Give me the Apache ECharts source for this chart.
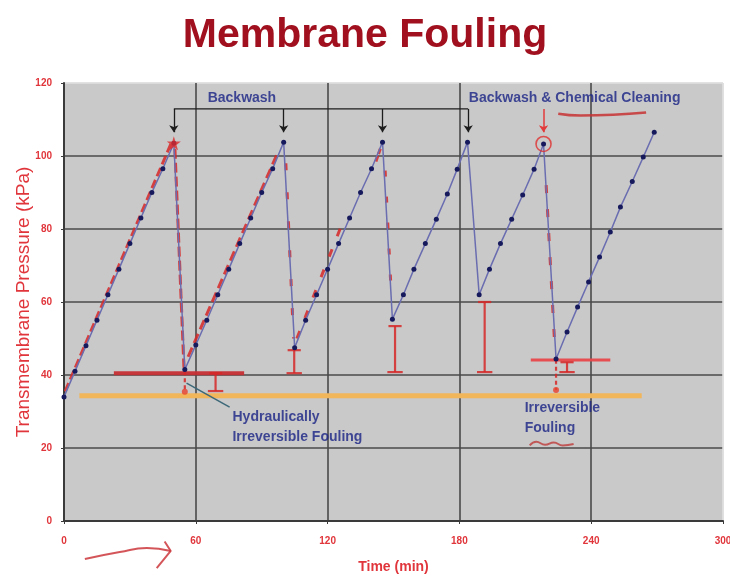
<!DOCTYPE html>
<html>
<head>
<meta charset="utf-8">
<title>Membrane Fouling</title>
<script src="https://cdn.jsdelivr.net/npm/echarts@6.0.0/dist/echarts.min.js"></script>
<style>
  html, body { margin: 0; padding: 0; background: #fff; }
  #chart { width: 730px; height: 576px; }
</style>
</head>
<body>
<div id="chart"></div>
<script>
// TMP readings (min, kPa), five filtration cycles
const timeMin = [
  0, 5, 10, 15, 20, 25, 30, 35, 40, 45, 50,
  55, 60, 65, 70, 75, 80, 85, 90, 95, 100,
  105, 110, 115, 120, 125, 130, 135, 140, 145,
  149.5, 154.5, 159.3, 164.5, 169.5, 174.5, 179, 183.7,
  189, 193.7, 198.7, 203.8, 208.8, 214, 218.3,
  224, 229, 233.8, 238.8, 243.8, 248.7, 253.3, 258.7, 263.7, 268.7
]
const pressure = [
  34, 41, 48, 55, 62, 69, 76, 83, 90, 96.5, 103.5,
  41.5, 48.2, 55, 62, 69, 76, 83, 90, 96.5, 103.8,
  47.5, 55, 62, 69, 76, 83, 90, 96.5, 103.8,
  55.3, 62, 69, 76, 82.7, 89.6, 96.4, 103.8,
  62, 69, 76, 82.7, 89.3, 96.4, 103.3,
  44.4, 51.8, 58.6, 65.5, 72.3, 79.2, 86, 93, 99.7, 106.5
]

const xTicks = [0, 60, 120, 180, 240, 300]
const yTicks = [0, 20, 40, 60, 80, 100, 120]

// annotation anchors (data units)
const backwashPeaks = [50, 100, 145, 184]
const bracketLevel = 112.9
const arrowTipLevel = 106.5
const chemCleanPeak = [218.3, 103.3]
const firstPeak = [50, 103.5]
const irreversibleLine = [[7, 34.3], [263, 34.3]]
const hydraulicLine = [[22.7, 40.5], [82, 40.5]]
const finalLine = [[212.5, 44.1], [248.7, 44.1]]
// [time, top, bottom] of hand drawn I-bars
const recoveryBars = [[104.8, 46.8, 40.5], [150.7, 53.4, 40.8], [191.5, 60, 40.8], [69, 40.5, 35.6], [229, 43.5, 40.8]]
const foulingDots = [[55, 35.4], [224, 35.9]]

// hand drawn red traces along the curve
const traces = [
  { pts: [[0.5, 35.5], [49, 103.8]], dash: [9, 4] },
  { pts: [[50.5, 102], [54.6, 42]], dash: [10, 4] },
  { pts: [[56.5, 45], [97, 100.5]], dash: [10, 5] },
  { pts: [[101, 98], [104.5, 50]], dash: [7, 22] },
  { pts: [[106, 50], [126, 80.5]], dash: [8, 14] },
  { pts: [[142, 98.5], [144, 102]], dash: [6, 2] },
  { pts: [[146.2, 96], [149, 62]], dash: [6, 20] },
  { pts: [[219.5, 92], [223.5, 47]], dash: [8, 16] }
]

const chemUnderline = [[225, 111.6], [235, 111.1], [250, 111.3], [265, 111.9]]
const foulingSquiggle = [[212, 20.7], [215, 21.7], [219, 20.9], [223, 21.5], [227, 20.7], [232, 21.1]]
const bottomArrow = [[9.5, -10.4], [25.4, -8.5], [37.7, -7.4], [48.6, -8.2]]
const bottomArrowHead = [[45.8, -5.6], [48.6, -8.2], [42.2, -12.9]]
const leader = [[55.8, 37.8], [75.4, 31.2]]

// text labels: [time, kPa, text]
const labels = [
  [65.4, 115.9, 'Backwash'],
  [184.3, 115.9, 'Backwash & Chemical Cleaning'],
  [76.7, 28.5, 'Hydraulically'],
  [76.7, 23.0, 'Irreversible Fouling'],
  [209.7, 31.0, 'Irreversible'],
  [209.7, 25.5, 'Fouling']
]

const RED = '#e0353b'
const HAND = 'rgba(214,40,40,0.85)'
const NAVY = '#1a2486'

const seg = (coords, style, extra) => Object.assign({ coords, lineStyle: style }, extra || {})

const barSegs = []
recoveryBars.forEach(([t, top, bot]) => {
  barSegs.push(seg([[t, top], [t, bot]], {}))
  barSegs.push(seg([[t - 3, top], [t + 3, top]], {}))
  barSegs.push(seg([[t - 3.5, bot], [t + 3.5, bot]], {}))
})
foulingDots.forEach(([t, v], i) => {
  const from = i === 0 ? 41 : 44.2
  barSegs.push(seg([[t, from], [t, v]], { type: [4, 3] }))
})

const myChart = echarts.init(document.getElementById('chart'))

myChart.setOption({
  animation: false,
  title: {
    text: 'Membrane Fouling',
    left: 'center',
    top: 10,
    textStyle: { color: '#a0101e', fontSize: 41, fontWeight: 'bold', fontFamily: 'Liberation Sans' }
  },
  grid: {
    left: 64, right: 7, top: 83, bottom: 55,
    outerBoundsMode: 'none',
    containLabel: false,
    show: true,
    backgroundColor: '#c9c9c9',
    borderColor: '#dedede',
    borderWidth: 1
  },
  xAxis: {
    type: 'value',
    min: xTicks[0], max: xTicks[xTicks.length - 1], interval: 60,
    name: 'Time (min)',
    nameLocation: 'middle',
    nameGap: 39,
    nameMoveOverlap: false,
    nameTextStyle: { color: RED, fontSize: 14, fontWeight: 'bold', fontFamily: 'Liberation Sans' },
    axisLine: { lineStyle: { color: '#3a3a3a', width: 2 } },
    axisTick: { show: true, length: 3, lineStyle: { color: '#3a3a3a' } },
    axisLabel: { color: RED, fontSize: 10, fontWeight: 'bold', margin: 15, fontFamily: 'Liberation Sans' },
    splitLine: { lineStyle: { color: ['#4a4a4a', '#4a4a4a', '#4a4a4a', '#4a4a4a', '#4a4a4a', '#dedede'], width: 1.6 } }
  },
  yAxis: {
    type: 'value',
    min: yTicks[0], max: yTicks[yTicks.length - 1], interval: 20,
    name: 'Transmembrane Pressure (kPa)',
    nameLocation: 'middle',
    nameGap: 31,
    nameMoveOverlap: false,
    nameTextStyle: { color: RED, fontSize: 19, fontFamily: 'Liberation Sans' },
    axisLine: { show: true, lineStyle: { color: '#3a3a3a', width: 2 } },
    axisTick: { show: true, length: 3, lineStyle: { color: '#3a3a3a' } },
    axisLabel: { color: RED, fontSize: 10, fontWeight: 'bold', margin: 12, fontFamily: 'Liberation Sans' },
    splitLine: { lineStyle: { color: ['#4a4a4a', '#4a4a4a', '#4a4a4a', '#4a4a4a', '#4a4a4a', '#4a4a4a', '#dedede'], width: 1.6 } }
  },
  series: [
    {
      // level of irreversible fouling (orange marker)
      type: 'lines', coordinateSystem: 'cartesian2d', polyline: true, z: 2,
      lineStyle: { color: '#f1b55a', width: 5, opacity: 1 },
      data: [{ coords: irreversibleLine }]
    },
    {
      type: 'lines', coordinateSystem: 'cartesian2d', polyline: true, z: 3,
      data: [
        seg(hydraulicLine, { color: '#c62f35', width: 4, opacity: 0.95 }),
        seg(finalLine, { color: '#e8484c', width: 3, opacity: 0.95 })
      ]
    },
    {
      type: 'lines', coordinateSystem: 'cartesian2d', polyline: true, z: 3,
      lineStyle: { color: HAND, width: 2.2, opacity: 1 },
      data: barSegs
    },
    {
      // hand drawn traces
      type: 'lines', coordinateSystem: 'cartesian2d', polyline: true, z: 3,
      data: traces.map(tr => seg(tr.pts, { color: HAND, width: 3, type: tr.dash, opacity: 1 }))
    },
    {
      name: 'TMP',
      type: 'line',
      z: 5,
      data: timeMin.map((t, i) => [t, pressure[i]]),
      symbol: 'circle',
      symbolSize: 5,
      itemStyle: { color: '#161a5c' },
      lineStyle: { color: '#6a6db0', width: 1.5 }
    },
    {
      // backwash bracket
      type: 'lines', coordinateSystem: 'cartesian2d', polyline: true, z: 6,
      lineStyle: { color: '#1c1c1c', width: 1.3, opacity: 1 },
      data: [seg([[backwashPeaks[0], bracketLevel], [backwashPeaks[backwashPeaks.length - 1], bracketLevel]], {})]
    },
    {
      type: 'lines', coordinateSystem: 'cartesian2d', z: 6,
      symbol: ['none', 'arrow'], symbolSize: 7,
      lineStyle: { color: '#1c1c1c', width: 1.3, opacity: 1 },
      data: backwashPeaks.map(t => seg([[t, bracketLevel], [t, arrowTipLevel]], {}))
    },
    {
      type: 'lines', coordinateSystem: 'cartesian2d', z: 6,
      symbol: ['none', 'arrow'], symbolSize: 7,
      lineStyle: { color: '#e23a3a', width: 1.5, opacity: 1 },
      data: [seg([[chemCleanPeak[0], bracketLevel], [chemCleanPeak[0], arrowTipLevel]], {})]
    },
    {
      type: 'lines', coordinateSystem: 'cartesian2d', z: 6,
      lineStyle: { color: '#3c6878', width: 1.5, opacity: 1 },
      data: [seg(leader, {})]
    },
    {
      // red squiggles and the arrow under the axis
      type: 'line', z: 6, smooth: true, symbol: 'none', clip: false,
      data: chemUnderline,
      lineStyle: { color: 'rgba(200,50,50,0.85)', width: 2.5 }
    },
    {
      type: 'line', z: 6, smooth: true, symbol: 'none', clip: false,
      data: foulingSquiggle,
      lineStyle: { color: 'rgba(190,60,60,0.8)', width: 2 }
    },
    {
      type: 'line', z: 6, smooth: true, symbol: 'none', clip: false,
      data: bottomArrow,
      lineStyle: { color: 'rgba(205,55,60,0.85)', width: 2 }
    },
    {
      type: 'line', z: 6, symbol: 'none', clip: false,
      data: bottomArrowHead,
      lineStyle: { color: 'rgba(205,55,60,0.85)', width: 2 }
    },
    {
      type: 'scatter', z: 7,
      data: [firstPeak],
      symbol: 'path://M50,0 L61,35 L98,35 L68,57 L79,91 L50,70 L21,91 L32,57 L2,35 L39,35 Z',
      symbolSize: 14,
      itemStyle: { color: '#e02a2a' }
    },
    {
      type: 'scatter', z: 7,
      data: [chemCleanPeak],
      symbol: 'circle',
      symbolSize: 15,
      itemStyle: { color: 'rgba(0,0,0,0)', borderColor: '#e0302f', borderWidth: 1.6 }
    },
    {
      type: 'scatter', z: 7,
      data: foulingDots,
      symbol: 'circle',
      symbolSize: 6,
      itemStyle: { color: '#e8402c' }
    },
    {
      type: 'scatter', z: 8,
      data: labels.map(l => ({ value: [l[0], l[1]], name: l[2] })),
      symbolSize: 0,
      label: {
        show: true,
        position: 'right',
        distance: 0,
        formatter: p => p.name,
        color: NAVY,
        fontSize: 14,
        fontWeight: 'bold',
        fontFamily: 'Liberation Sans'
      }
    }
  ]
})
</script>
</body>
</html>
